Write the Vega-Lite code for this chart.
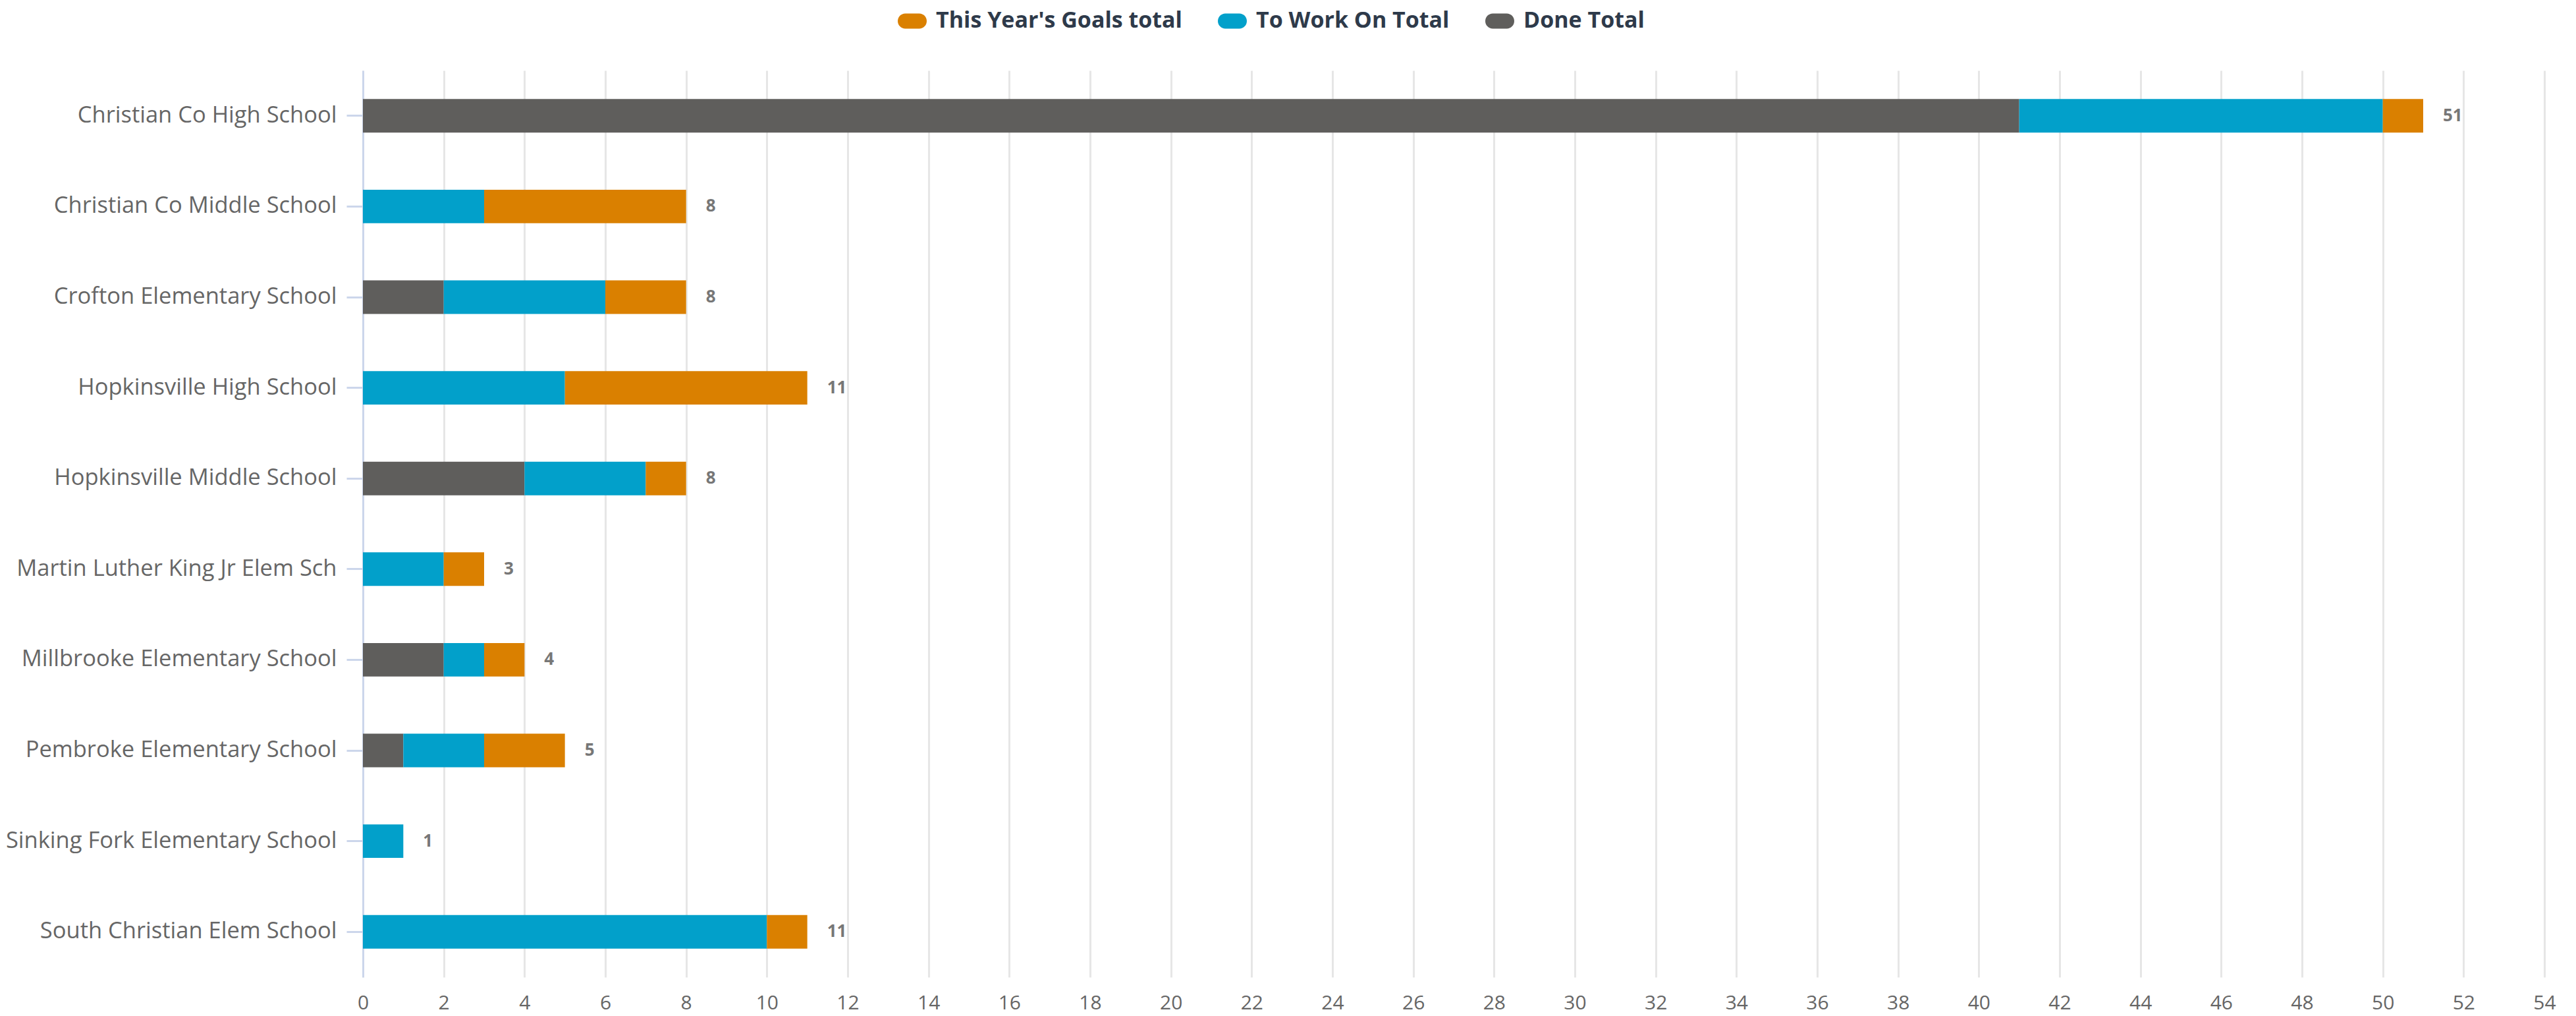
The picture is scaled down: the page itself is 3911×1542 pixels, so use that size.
{
  "$schema": "https://vega.github.io/schema/vega-lite/v6.json",
  "autosize": {"type": "none"},
  "width": 3312,
  "height": 1376,
  "padding": {"left": 551, "top": 107, "right": 48, "bottom": 59},
  "background": "#ffffff",
  "config": {
    "view": {"stroke": null},
    "font": "Open Sans"
  },
  "data": {
    "values": [
      {"school": "Christian Co High School", "series": "Done Total", "value": 41},
      {"school": "Christian Co High School", "series": "To Work On Total", "value": 9},
      {"school": "Christian Co High School", "series": "This Year's Goals total", "value": 1},
      {"school": "Christian Co Middle School", "series": "Done Total", "value": 0},
      {"school": "Christian Co Middle School", "series": "To Work On Total", "value": 3},
      {"school": "Christian Co Middle School", "series": "This Year's Goals total", "value": 5},
      {"school": "Crofton Elementary School", "series": "Done Total", "value": 2},
      {"school": "Crofton Elementary School", "series": "To Work On Total", "value": 4},
      {"school": "Crofton Elementary School", "series": "This Year's Goals total", "value": 2},
      {"school": "Hopkinsville High School", "series": "Done Total", "value": 0},
      {"school": "Hopkinsville High School", "series": "To Work On Total", "value": 5},
      {"school": "Hopkinsville High School", "series": "This Year's Goals total", "value": 6},
      {"school": "Hopkinsville Middle School", "series": "Done Total", "value": 4},
      {"school": "Hopkinsville Middle School", "series": "To Work On Total", "value": 3},
      {"school": "Hopkinsville Middle School", "series": "This Year's Goals total", "value": 1},
      {"school": "Martin Luther King Jr Elem Sch", "series": "Done Total", "value": 0},
      {"school": "Martin Luther King Jr Elem Sch", "series": "To Work On Total", "value": 2},
      {"school": "Martin Luther King Jr Elem Sch", "series": "This Year's Goals total", "value": 1},
      {"school": "Millbrooke Elementary School", "series": "Done Total", "value": 2},
      {"school": "Millbrooke Elementary School", "series": "To Work On Total", "value": 1},
      {"school": "Millbrooke Elementary School", "series": "This Year's Goals total", "value": 1},
      {"school": "Pembroke Elementary School", "series": "Done Total", "value": 1},
      {"school": "Pembroke Elementary School", "series": "To Work On Total", "value": 2},
      {"school": "Pembroke Elementary School", "series": "This Year's Goals total", "value": 2},
      {"school": "Sinking Fork Elementary School", "series": "Done Total", "value": 0},
      {"school": "Sinking Fork Elementary School", "series": "To Work On Total", "value": 1},
      {"school": "Sinking Fork Elementary School", "series": "This Year's Goals total", "value": 0},
      {"school": "South Christian Elem School", "series": "Done Total", "value": 0},
      {"school": "South Christian Elem School", "series": "To Work On Total", "value": 10},
      {"school": "South Christian Elem School", "series": "This Year's Goals total", "value": 1}
    ]
  },
  "transform": [
    {"calculate": "indexof(['Done Total', 'To Work On Total', \"This Year's Goals total\"], datum.series)", "as": "stackRank"}
  ],
  "encoding": {
    "y": {
      "field": "school",
      "type": "nominal",
      "sort": null,
      "scale": {"paddingInner": 0.63, "paddingOuter": 0.315},
      "axis": {
        "title": null,
        "domainColor": "#ccd6eb",
        "domainWidth": 3,
        "tickColor": "#ccd6eb",
        "tickWidth": 3,
        "tickSize": 25,
        "labelPadding": 15,
        "labelFont": "Open Sans",
        "labelFontSize": 34.5,
        "labelColor": "#666666",
        "labelLimit": 1000,
        "grid": false
      }
    }
  },
  "layer": [
    {
      "mark": {"type": "bar"},
      "encoding": {
        "x": {
          "field": "value",
          "type": "quantitative",
          "stack": "zero",
          "scale": {"domain": [0, 54], "nice": false},
          "axis": {
            "title": null,
            "values": [0, 2, 4, 6, 8, 10, 12, 14, 16, 18, 20, 22, 24, 26, 28, 30, 32, 34, 36, 38, 40, 42, 44, 46, 48, 50, 52, 54],
            "format": "d",
            "domain": false,
            "ticks": false,
            "grid": true,
            "gridColor": "#e6e6e6",
            "gridWidth": 3,
            "labelFlush": false,
            "labelFont": "Open Sans",
            "labelFontSize": 30,
            "labelColor": "#666666",
            "labelPadding": 24
          }
        },
        "color": {
          "field": "series",
          "type": "nominal",
          "scale": {
            "domain": ["This Year's Goals total", "To Work On Total", "Done Total"],
            "range": ["#DA8000", "#02A0CA", "#5F5E5C"]
          },
          "legend": {
            "title": null,
            "orient": "none",
            "direction": "horizontal",
            "legendX": 812,
            "legendY": -97,
            "symbolType": "M-0.48,-0.52 H0.48 A0.52,0.52 0 0 1 0.48,0.52 H-0.48 A0.52,0.52 0 0 1 -0.48,-0.52 Z",
            "symbolSize": 1936,
            "symbolStrokeWidth": 0,
            "labelFont": "Open Sans",
            "labelFontSize": 34,
            "labelFontWeight": "bold",
            "labelColor": "#2e3a4a",
            "labelOffset": 14,
            "columnPadding": 54,
            "labelLimit": 1000
          }
        },
        "order": {"field": "stackRank", "type": "quantitative", "sort": "ascending"}
      }
    },
    {
      "mark": {
        "type": "text",
        "align": "left",
        "baseline": "middle",
        "dx": 30,
        "font": "Open Sans",
        "fontSize": 26,
        "fontWeight": "bold",
        "color": "#777777"
      },
      "encoding": {
        "x": {"aggregate": "sum", "field": "value", "type": "quantitative"},
        "text": {"aggregate": "sum", "field": "value", "type": "quantitative"}
      }
    }
  ]
}
